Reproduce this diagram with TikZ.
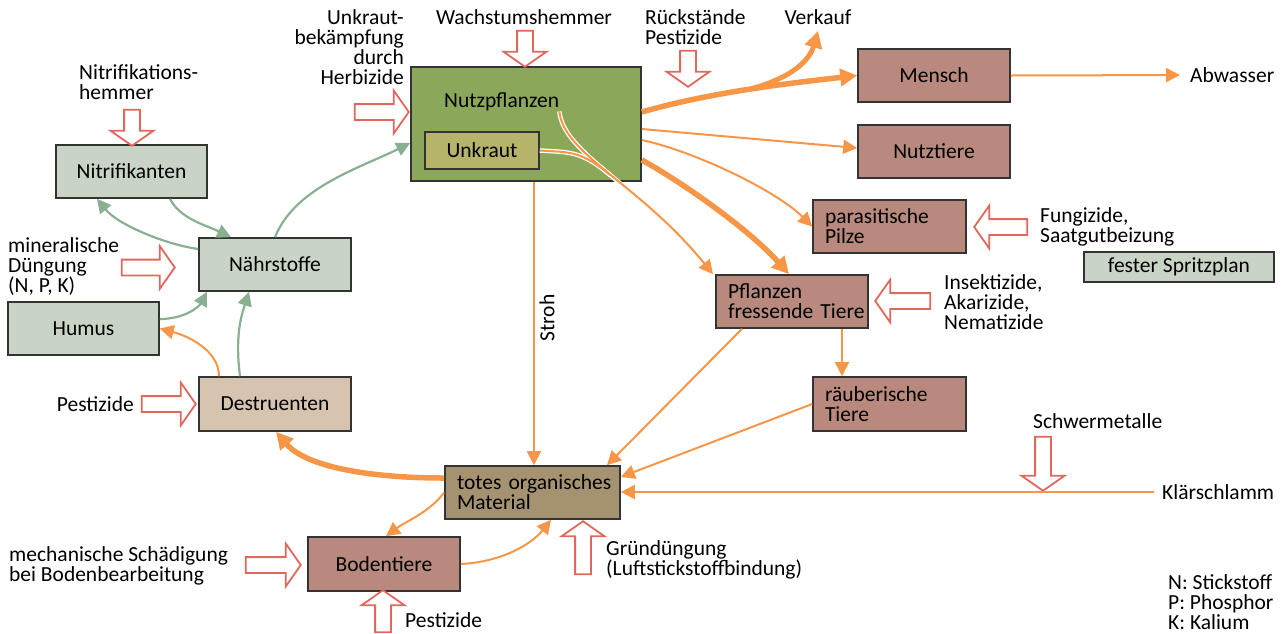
\documentclass[tikz,border=0pt]{standalone}
\usepackage{fontspec}
\setmainfont{Carlito}
\usetikzlibrary{arrows.meta,shapes.arrows}

\definecolor{boxline}{HTML}{333333}
\definecolor{cropgreen}{HTML}{8BA85A}
\definecolor{weedolive}{HTML}{B6B46A}
\definecolor{soilgrey}{HTML}{C9D4C7}
\definecolor{animalbrown}{HTML}{B8897C}
\definecolor{decompbeige}{HTML}{D6C4AE}
\definecolor{deadbrown}{HTML}{A59270}
\definecolor{orflow}{HTML}{F79646}
\definecolor{grflow}{HTML}{89B091}
\definecolor{inred}{HTML}{E0685C}

\tikzset{
  box/.style={draw=boxline, line width=1.6pt, inner sep=0pt, minimum width=152pt, minimum height=53pt, align=center},
  lbox/.style={box, inner xsep=12pt, text width=128pt, align=left},
  lbl/.style={inner sep=0pt},
  inarrow/.style={single arrow, draw=inred, fill=white, line width=1.8pt, inner xsep=0pt, inner ysep=7pt, single arrow head extend=13.5pt, single arrow tip angle=110, minimum height=#1},
  flow/.style={draw=orflow, line width=2pt, -{Triangle[length=14pt,width=14pt]}},
  bigflow/.style={draw=orflow, line width=5.5pt, -{Triangle[length=17pt,width=17pt]}},
  nflow/.style={draw=grflow, line width=2.2pt, -{Triangle[length=14pt,width=14pt]}},
}

\begin{document}
\begin{tikzpicture}[x=1pt,y=-1pt,font=\fontsize{21.5}{20}\selectfont]
\useasboundingbox (0,0) rectangle (1288,633);

% crops and weeds
\node[box, fill=cropgreen, minimum width=230pt, minimum height=114pt] (nutz) at (526,124) {};
\node[lbl, anchor=west] (nutzlbl) at (444,102) {Nutzpflanzen};
\node[box, fill=weedolive, minimum width=114pt, minimum height=37pt] (unkraut) at (482,150.5) {Unkraut};

% soil side
\node[box, fill=soilgrey, minimum width=151pt] (nitri) at (131.5,171.5) {Nitrifikanten};
\node[box, fill=soilgrey] (naehr) at (275,264.5) {Nährstoffe};
\node[box, fill=soilgrey, minimum width=151pt] (humus) at (83.5,328.5) {Humus};
\node[box, fill=decompbeige, minimum height=54pt] (destr) at (275,404) {Destruenten};
\node[lbox, fill=deadbrown, minimum width=175pt, text width=151pt] (totes) at (532.5,492.5) {\mbox{totes organisches}\\Material};
\node[box, fill=animalbrown, minimum height=54pt] (boden) at (384,564) {Bodentiere};

% consumers
\node[box, fill=animalbrown] (mensch) at (934,75.5) {Mensch};
\node[box, fill=animalbrown] (nutzt) at (934,151.5) {Nutztiere};
\node[lbox, fill=animalbrown, minimum width=153pt, text width=129pt] (pilze) at (889.5,226.5) {parasitische\\Pilze};
\node[box, fill=soilgrey, minimum width=190pt, minimum height=30pt] (spritz) at (1179,267) {fester Spritzplan};
\node[lbox, fill=animalbrown] (pft) at (792,301.5) {Pflanzen\\\mbox{fressende Tiere}};
\node[lbox, fill=animalbrown, minimum width=153pt, minimum height=54pt, text width=129pt] (raeub) at (889.5,404) {räuberische\\Tiere};

% inputs
\node[inarrow=36pt, rotate=-90] (wachsarr) at (525,46) {};
\node[inarrow=36pt, rotate=-90] (nitriarr) at (132,125) {};
\node[inarrow=54pt] (herbarr) at (379,112) {};
\node[inarrow=53pt] (duengarr) at (145.5,267.5) {};
\node[inarrow=54pt] (pestdarr) at (166,404) {};
\node[inarrow=55pt] (mecharr) at (270.5,565) {};
\node[inarrow=42pt, rotate=90] (pestbarr) at (383,614) {};
\node[inarrow=53pt, rotate=90] (gruenarr) at (583,550.5) {};
\node[inarrow=36pt, rotate=-90] (rueckarr) at (688,66) {};
\node[inarrow=53pt, rotate=180] (fungarr) at (1003.5,227) {};
\node[inarrow=55pt, rotate=180] (insekarr) at (905.5,301) {};
\node[inarrow=54pt, rotate=-90] (schwerarr) at (1043,461) {};

% labels
\node[lbl, anchor=east, align=right] (herblbl) at (404,47) {Unkraut-\\bekämpfung\\durch\\Herbizide};
\node[lbl] (wachslbl) at (524,17) {Wachstumshemmer};
\node[lbl, anchor=west, align=left] (nitrilbl) at (79,82.5) {Nitrifikations-\\hemmer};
\node[lbl, anchor=west, align=left] (duenglbl) at (8,266.5) {mineralische\\Düngung\\(N, P, K)};
\node[lbl, anchor=east] (pestdlbl) at (134,404) {Pestizide};
\node[lbl, anchor=west, align=left] (mechlbl) at (9,565.5) {mechanische Schädigung\\bei Bodenbearbeitung};
\node[lbl, anchor=west] (pestblbl) at (405,620) {Pestizide};
\node[lbl, anchor=west, align=left] (gruenlbl) at (606,560) {Gründüngung\\(Luftstickstoffbindung)};
\node[lbl, rotate=90] (stroh) at (547,318) {Stroh};
\node[lbl, anchor=west, align=left] (rueckl) at (645,27) {Rückstände\\Pestizide};
\node[lbl] (verkauf) at (818,17) {Verkauf};
\node[lbl, anchor=west] (abw) at (1190,75) {Abwasser};
\node[lbl, anchor=west, align=left] (funglbl) at (1040,227) {Fungizide,\\Saatgutbeizung};
\node[lbl, anchor=west, align=left] (insekl) at (944,302) {Insektizide,\\Akarizide,\\Nematizide};
\node[lbl, anchor=west] (schwerl) at (1033,421) {Schwermetalle};
\node[lbl, anchor=west] (klaer) at (1162,492) {Klärschlamm};
\node[lbl, anchor=west, align=left] (legend) at (1168,602) {N: Stickstoff\\P: Phosphor\\K: Kalium};

% nutrient cycle
\draw[nflow] (naehr.north) .. controls +(20,-50) and +(-50,25) .. ([yshift=-19pt]nutz.west);
\draw[nflow] ([xshift=38.5pt]nitri.south) .. controls +(10,20) and +(-25,-12) .. ([xshift=-44pt]naehr.north);
\draw[nflow] ([yshift=15.5pt]naehr.west) .. controls +(-35,-5) and +(20,25) .. ([xshift=-34.5pt]nitri.south);
\draw[nflow] ([yshift=9.5pt]humus.east) .. controls +(25,0) and +(-8,15) .. ([xshift=-68pt]naehr.south);
\draw[nflow] ([xshift=-35pt]destr.north) .. controls +(-5,-40) and +(-8,25) .. ([xshift=-26pt]naehr.south);

% dead matter
\draw[flow] ([xshift=-56pt]destr.north) .. controls +(0,-25) and +(30,8) .. (humus.east);
\draw[bigflow] ([yshift=14.5pt]totes.west) .. controls +(-75,0) and +(30,35) .. ([xshift=1pt]destr.south);
\draw[flow] (totes.west) .. controls +(-15,20) and +(20,-15) .. ([xshift=2pt]boden.north);
\draw[flow] (boden.east) .. controls +(40,-2) and +(-20,25) .. ([xshift=18.5pt]totes.south);
\draw[flow] ([xshift=8pt]nutz.south) -- ([xshift=1.5pt]totes.north);
\draw[flow] ([xshift=-50pt]pft.south) -- ([xshift=74.5pt]totes.north);
\draw[flow] (raeub.west) -- ([yshift=15.5pt]totes.east);
\draw[flow, shorten <=8pt] (klaer.west) -- (totes.east |- klaer.west);
\draw[flow] ([xshift=50pt]pft.south) -- ([xshift=-47.5pt]raeub.north);

% crop outputs
\draw[bigflow] ([yshift=12pt]nutz.east) .. controls +(70,-20) and +(-70,8) .. (mensch.west) coordinate[pos=.5] (split);
\draw[bigflow, line width=5pt] (split) .. controls +(45,-12) and +(-8,28) .. ([yshift=-6pt]verkauf.south);
\draw[flow, shorten >=10pt] (mensch.east) -- (abw.west);
\draw[flow] ([yshift=-5pt]nutz.east) -- ([yshift=3.5pt]nutzt.west);
\draw[flow] ([yshift=-16pt]nutz.east) .. controls +(55,12) and +(-35,-35) .. (pilze.west);
\draw[bigflow] ([yshift=-36pt]nutz.east) .. controls +(40,22) and +(-40,-45) .. ([xshift=-3pt]pft.north);
\draw[white, line width=4.5pt] (nutzlbl.south east) .. controls +(4,43) and +(-73,-90) .. ([xshift=-79pt]pft.north) coordinate[pos=.5] (merge);
\draw[white, line width=4.5pt] (unkraut.east) .. controls +(30,2) and +(-30,-25) .. (merge);
\draw[flow] (nutzlbl.south east) .. controls +(4,43) and +(-73,-90) .. ([xshift=-79pt]pft.north);
\draw[flow, -] (unkraut.east) .. controls +(30,2) and +(-30,-25) .. (merge);
\end{tikzpicture}
\end{document}
